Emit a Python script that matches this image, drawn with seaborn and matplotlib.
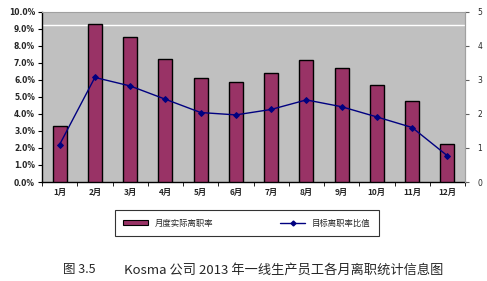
import matplotlib
matplotlib.use("Agg")
import matplotlib.pyplot as plt
import seaborn as sns
from matplotlib.patches import Patch
from matplotlib.lines import Line2D
from matplotlib.ticker import FixedLocator

months = ["1月", "2月", "3月", "4月", "5月", "6月", "7月", "8月", "9月", "10月", "11月", "12月"]
actual_rate = [3.28, 9.25, 8.49, 7.24, 6.1, 5.9, 6.39, 7.14, 6.71, 5.69, 4.78, 2.24]
target_ratio = [1.1, 3.07, 2.82, 2.43, 2.04, 1.97, 2.13, 2.41, 2.21, 1.91, 1.6, 0.77]
left_ticks = [0, 1, 2, 3, 4, 5, 6, 7, 8, 9, 10]
right_ticks = [0, 1, 2, 3, 4, 5]
bar_label = "月度实际离职率"
line_label = "目标离职率比值"
caption_fig = "图 3.5"
caption_text = "Kosma 公司 2013 年一线生产员工各月离职统计信息图"

sns.set_style("white")
plt.rcParams['font.family'] = ['Noto Sans CJK SC', 'DejaVu Sans']

W, H = 487, 281
fig = plt.figure(figsize=(W / 100, H / 100), dpi=100)
fig.patch.set_facecolor("white")
x0, x1, ytop, ybot = 42, 465, 11.7, 182
ax = fig.add_axes([x0 / W, 1 - ybot / H, (x1 - x0) / W, (ybot - ytop) / H])
ax.set_facecolor("#C0C0C0")

sns.barplot(x=months, y=actual_rate, ax=ax, color="#993366", width=0.4,
            edgecolor="black", linewidth=1.0, saturation=1, zorder=3)
ax.axhline(9.2, color="white", linewidth=1, zorder=1)
ax.set_ylim(0, 10)
ax.set_xlim(-0.5, 11.5)
ax.set_yticks(left_ticks)
ax.set_yticklabels([f"{v:.1f}%" for v in left_ticks], fontsize=5.5, fontweight="bold",
                   family="DejaVu Sans")
ax.xaxis.set_minor_locator(FixedLocator([i + 0.5 for i in range(-1, 12)]))
ax.tick_params(axis="x", which="major", length=0, labelsize=6, pad=4)
ax.tick_params(axis="x", which="minor", length=3, direction="out", color="black", bottom=True)
ax.tick_params(axis="y", length=3, direction="out", color="black", left=True, pad=2)
for lbl in ax.get_xticklabels():
    lbl.set_fontweight("bold")
ax.set_xlabel("")
ax.set_ylabel("")
for s in ["top", "right"]:
    ax.spines[s].set_color("#A0A0A0")
    ax.spines[s].set_linewidth(0.8)
for s in ["left", "bottom"]:
    ax.spines[s].set_color("black")
    ax.spines[s].set_linewidth(1.0)

ax2 = ax.twinx()
sns.pointplot(x=months, y=target_ratio, ax=ax2, color="#000080", markers="D",
              markersize=3, linewidth=1.0, zorder=4)
ax2.set_ylim(0, 5)
ax2.set_xlim(-0.5, 11.5)
ax2.set_yticks(right_ticks)
ax2.set_yticklabels([str(v) for v in right_ticks], fontsize=5.5, family="DejaVu Sans")
ax2.tick_params(axis="y", length=3, direction="out", color="#606060", right=True, pad=6)
ax2.set_ylabel("")
ax2.set_xlabel("")
for s in ["top", "left", "bottom"]:
    ax2.spines[s].set_visible(False)
ax2.spines["right"].set_color("#A0A0A0")
ax2.spines["right"].set_linewidth(0.8)

handles = [Patch(facecolor="#993366", edgecolor="black", linewidth=0.8, label=bar_label),
           Line2D([0], [0], color="#000080", marker="D", markersize=2.5, linewidth=1.0, label=line_label)]
leg = fig.legend(handles=handles, loc="center", bbox_to_anchor=(247 / W, 1 - 223 / H),
                 ncol=2, frameon=True, fontsize=6, handlelength=3.0, handleheight=0.5,
                 columnspacing=8, borderpad=1.0, fancybox=False)
leg.get_frame().set_edgecolor("black")
leg.get_frame().set_linewidth(0.8)

fig.text(63 / W, 1 - 270 / H, caption_fig, fontsize=9, va="center", ha="left")
fig.text(124 / W, 1 - 270 / H, caption_text, fontsize=9.5, va="center", ha="left")

fig.savefig("out.png", dpi=100)
